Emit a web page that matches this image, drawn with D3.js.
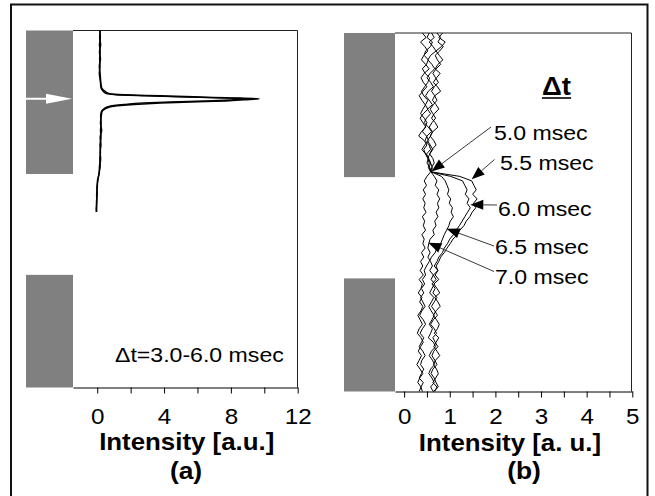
<!DOCTYPE html>
<html>
<head>
<meta charset="utf-8">
<script src="https://cdn.jsdelivr.net/npm/d3@7"></script>
<style>
  body { margin: 0; background: #fff; }
  svg { display: block; font-family: "Liberation Sans", Arial, Helvetica, sans-serif; }
</style>
</head>
<body>
<svg id="fig" width="655" height="496"></svg>
<script>
// ---------- Panel (a): time-integrated profile, Δt = 3.0–6.0 msec ----------
// position along the gap (0 = top of plot, 100 = bottom), intensity in a.u.
const zA = [0, 2, 4, 6, 8, 10, 12, 14, 16, 17, 17.7, 18, 18.3, 18.6, 18.85, 19.12,
            19.4, 19.7, 20, 20.3, 20.7, 21, 21.4, 22, 22.7, 24, 26, 28, 30, 32, 34,
            36, 38, 40, 42, 44, 46, 48, 50, 50.8];
const intensityA1 = [0.18, 0.15, 0.20, 0.14, 0.19, 0.13, 0.17, 0.20, 0.26, 0.45, 0.75, 1.6, 3.8, 5.8, 7.7, 9.7,
                     8.8, 7.7, 5.6, 3.8, 2.2, 1.4, 0.75, 0.45, 0.28, 0.24, 0.20, 0.26, 0.18, 0.22, 0.17,
                     0.20, 0.14, 0.12, 0.02, 0.00, -0.03, -0.02, -0.06, -0.05];
const intensityA2 = [0.16, 0.19, 0.13, 0.18, 0.14, 0.17, 0.12, 0.18, 0.22, 0.35, 0.55, 1.1, 2.9, 5.0, 7.2, 9.2,
                     8.1, 6.6, 4.4, 2.8, 1.6, 1.0, 0.6, 0.38, 0.25, 0.20, 0.24, 0.19, 0.23, 0.16, 0.20,
                     0.15, 0.18, 0.10, 0.04, -0.02, 0.00, -0.05, -0.03, -0.04];
const ticksA = [0, 2, 4, 6, 8, 10, 12];
const tickLabelsA = [0, 4, 8, 12];

// ---------- Panel (b): time-resolved profiles ----------
const zB = [0, 1.25, 2.5, 3.75, 5, 6.25, 7.5, 8.75, 10, 11.25, 12.5, 13.75, 15, 16.25, 17.5, 18.75,
            20, 21.25, 22.5, 23.75, 25, 26.25, 27.5, 28.75, 30, 31.25, 32.5, 33.75, 35, 36.25, 37.5,
            38.75, 40, 41.25, 42.5, 43.75, 45, 46.25, 47.5, 48.75, 50, 51.25, 52.5, 53.75, 55, 56.25,
            57.5, 58.75, 60, 61.25, 62.5, 63.75, 65, 66.25, 67.5, 68.75, 70, 71.25, 72.5, 73.75, 75,
            76.25, 77.5, 78.75, 80, 81.25, 82.5, 83.75, 85, 86.25, 87.5, 88.75, 90, 91.25, 92.5, 93.75,
            95, 96.25, 97.5, 98.75, 100];
const profile50 = [0.55,0.50,0.62,0.58,0.47,0.44,0.53,0.49,0.40,0.46,
                   0.56,0.52,0.45,0.38,0.43,0.52,0.47,0.41,0.36,0.44,
                   0.50,0.46,0.40,0.49,0.54,0.45,0.39,0.47,0.52,0.55,
                   0.53,0.58,0.50,0.44,0.49,0.42,0.47,0.41,0.46,0.43,
                   0.48,0.40,0.45,0.42,0.47,0.39,0.44,0.41,0.46,0.38,
                   0.43,0.36,0.41,0.35,0.42,0.33,0.40,0.37,0.31,0.39,
                   0.34,0.41,0.37,0.30,0.35,0.40,0.33,0.29,0.37,0.42,
                   0.36,0.31,0.38,0.33,0.28,0.35,0.41,0.34,0.30,0.37,0.33];
const profile55 = [0.72,0.80,0.74,0.86,0.78,0.68,0.73,0.80,0.70,0.63,
                   0.69,0.75,0.66,0.60,0.67,0.72,0.64,0.57,0.63,0.69,
                   0.61,0.55,0.62,0.58,0.51,0.57,0.63,0.56,0.52,0.58,
                   0.62,0.60,1.22,1.48,1.53,1.58,1.50,1.60,1.52,1.57,
                   1.49,1.44,1.36,1.31,1.22,1.17,1.07,1.01,0.94,0.88,
                   0.80,0.76,0.70,0.74,0.64,0.70,0.61,0.68,0.63,0.72,
                   0.66,0.60,0.67,0.73,0.64,0.58,0.66,0.71,0.63,0.68,
                   0.74,0.65,0.61,0.67,0.72,0.63,0.59,0.66,0.70,0.75,0.64];
const profile60 = [0.84,0.76,0.90,0.82,0.70,0.77,0.85,0.74,0.68,0.79,
                   0.71,0.64,0.73,0.80,0.67,0.62,0.70,0.76,0.66,0.60,
                   0.68,0.74,0.63,0.57,0.65,0.70,0.61,0.56,0.63,0.66,
                   0.60,0.59,1.02,1.28,1.33,1.38,1.34,1.42,1.38,1.45,
                   1.39,1.33,1.27,1.21,1.14,1.08,1.00,0.95,0.88,0.84,
                   0.76,0.72,0.66,0.74,0.68,0.76,0.65,0.72,0.78,0.67,
                   0.74,0.79,0.70,0.64,0.71,0.77,0.73,0.66,0.76,0.70,
                   0.65,0.72,0.78,0.69,0.64,0.71,0.75,0.69,0.63,0.72,0.67];
const profile65 = [0.40,0.48,0.36,0.45,0.52,0.43,0.38,0.47,0.55,0.44,
                   0.37,0.42,0.50,0.41,0.33,0.39,0.46,0.52,0.42,0.35,
                   0.41,0.48,0.38,0.32,0.44,0.50,0.43,0.47,0.53,0.50,
                   0.56,0.60,0.82,0.90,0.94,0.98,0.95,1.02,0.99,1.06,
                   1.03,1.08,1.01,0.98,0.93,0.88,0.84,0.80,0.72,0.68,
                   0.60,0.55,0.49,0.44,0.47,0.40,0.45,0.38,0.43,0.36,
                   0.41,0.46,0.39,0.34,0.42,0.47,0.40,0.35,0.43,0.38,
                   0.33,0.41,0.46,0.39,0.36,0.43,0.38,0.33,0.42,0.37,0.40];
const profile70 = [0.60,0.66,0.55,0.63,0.70,0.58,0.52,0.61,0.67,0.57,
                   0.50,0.58,0.64,0.53,0.47,0.55,0.62,0.51,0.58,0.49,
                   0.44,0.53,0.60,0.50,0.46,0.55,0.58,0.49,0.54,0.58,
                   0.55,0.59,0.66,0.72,0.68,0.76,0.72,0.78,0.73,0.76,
                   0.70,0.74,0.67,0.70,0.63,0.66,0.57,0.54,0.52,0.57,
                   0.52,0.58,0.62,0.56,0.64,0.59,0.67,0.61,0.56,0.65,
                   0.60,0.54,0.59,0.66,0.61,0.55,0.62,0.58,0.53,0.64,
                   0.69,0.60,0.55,0.62,0.67,0.58,0.54,0.61,0.66,0.58,0.64];
const profilesB = [profile50, profile55, profile60, profile65, profile70];
const timeLabels = ["5.0 msec", "5.5 msec", "6.0 msec", "6.5 msec", "7.0 msec"];
// points on the profiles that the labels point at (intensity, position)
const pointerX = [0.60, 1.48, 1.45, 0.93, 0.53];
const pointerZ = [38.6, 40.8, 47.9, 54.6, 58.5];
const ticksB = [0, 0.5, 1, 1.5, 2, 2.5, 3, 3.5, 4, 4.5, 5];
const tickLabelsB = [0, 1, 2, 3, 4, 5];

// electrode extents along the gap (same positions in both panels)
const electrodeZ = [[0, 40.2], [68.45, 100]];

// ---------- layout ----------
const STRETCH = 1.1;   // horizontal text stretch of the figure
const FONT = '"Liberation Sans", Arial, Helvetica, sans-serif';
const panelA = { left: 73, right: 297.7, top: 30.5, bottom: 387.5, xMin: -1.45, xMax: 12,
                 elecLeft: 26, tickY: 37, titleX: 186.7, titleY: 450, capX: 186, capY: 479 };
const panelB = { left: 395, right: 632.3, top: 33, bottom: 391.5, xMin: -0.2, xMax: 5,
                 elecLeft: 344, tickY: 33, titleX: 510, titleY: 451, capX: 524, capY: 479 };

const svg = d3.select("#fig");

function stretchedText(g, x, y, s, size, weight, anchor) {
  return g.append("text")
    .attr("transform", `translate(${x},${y}) scale(${STRETCH},1)`)
    .attr("text-anchor", anchor || "middle")
    .attr("font-size", size)
    .attr("font-weight", weight || "normal")
    .attr("fill", "#000")
    .text(s);
}

// outer frame (open at the bottom edge of the page)
svg.append("path")
  .attr("d", "M11,500V4.5H647.5V500")
  .attr("fill", "none").attr("stroke", "#111").attr("stroke-width", 2);

function drawPanel(P, ticks, tickLabels) {
  const g = svg.append("g");
  const x = d3.scaleLinear().domain([P.xMin, P.xMax]).range([P.left, P.right]);
  const z = d3.scaleLinear().domain([0, 100]).range([P.top, P.bottom]);

  // electrodes
  g.selectAll("rect.electrode").data(electrodeZ).join("rect")
    .attr("class", "electrode")
    .attr("x", P.elecLeft).attr("width", P.left - P.elecLeft)
    .attr("y", d => z(d[0])).attr("height", d => z(d[1]) - z(d[0]))
    .attr("fill", "#808080");

  // plot frame: top and right edges
  g.append("path")
    .attr("d", `M${P.left},${P.top}H${Math.round(P.right) - 0.5}V${P.bottom}`)
    .attr("fill", "none").attr("stroke", "#222").attr("stroke-width", 1);

  // intensity axis: minor ticks unlabelled
  const axis = d3.axisBottom(x)
    .tickValues(ticks)
    .tickSize(6).tickSizeOuter(0)
    .tickFormat(d => String(d));
  const ag = g.append("g").attr("transform", `translate(0,${P.bottom})`).call(axis);
  ag.select(".domain").attr("stroke", "#000");
  ag.selectAll(".tick line").attr("stroke", "#000");
  ag.selectAll(".tick").filter(d => !tickLabels.includes(d)).select("text").remove();
  ag.selectAll(".tick text")
    .attr("x", 0).attr("y", P.tickY).attr("dy", null)
    .attr("transform", `scale(${STRETCH},1)`)
    .attr("font-family", FONT).attr("font-size", 22).attr("fill", "#000");
  return { g, x, z };
}

// ---------- panel (a) ----------
const A = drawPanel(panelA, ticksA, tickLabelsA);
const lineA = d3.line().x(d => A.x(d[1])).y(d => A.z(d[0])).curve(d3.curveMonotoneY);
[intensityA2, intensityA1].forEach((vals, k) => {
  A.g.append("path")
    .datum(zA.map((zz, i) => [zz, vals[i]]))
    .attr("d", lineA)
    .attr("fill", "none").attr("stroke", "#000")
    .attr("stroke-width", k === 0 ? 1.3 : 1.6);
});
// arrow marking the peak position on the electrode
const peakZ = zA[intensityA1.indexOf(d3.max(intensityA1))];
const ay = A.z(peakZ);
A.g.append("line").attr("x1", panelA.elecLeft).attr("x2", 47).attr("y1", ay).attr("y2", ay)
  .attr("stroke", "#fff").attr("stroke-width", 2);
A.g.append("path").attr("d", `M46,${ay - 5}L72,${ay}L46,${ay + 5}Z`).attr("fill", "#fff");
stretchedText(A.g, 115, 361.5, "\u0394t=3.0-6.0 msec", 21, "normal", "start");
stretchedText(svg, panelA.titleX, panelA.titleY, "Intensity [a.u.]", 23.5, "bold");
stretchedText(svg, panelA.capX, panelA.capY, "(a)", 24, "bold");

// ---------- panel (b) ----------
const B = drawPanel(panelB, ticksB, tickLabelsB);
const lineB = d3.line().x(d => B.x(d[1])).y(d => B.z(d[0]));
profilesB.forEach(vals => {
  B.g.append("path")
    .datum(zB.map((zz, i) => [zz, vals[i]]))
    .attr("d", lineB)
    .attr("fill", "none").attr("stroke", "#000").attr("stroke-width", 1);
});

// legend heading
const dt = stretchedText(B.g, 556.5, 95, "\u0394t", 25, "bold");
const bb = dt.node().getBBox();
B.g.append("line")
  .attr("x1", 556.5 - bb.width * STRETCH / 2).attr("x2", 556.5 + bb.width * STRETCH / 2)
  .attr("y1", 98).attr("y2", 98).attr("stroke", "#000").attr("stroke-width", 1.6);

// labelled pointers
const labelLayout = [
  { x: 494, y: 140, tx: 491, ty: 127 },
  { x: 500, y: 170, tx: 494.5, ty: 159.5 },
  { x: 498, y: 216, tx: 497, ty: 205 },
  { x: 495, y: 254, tx: 494, ty: 246 },
  { x: 495, y: 284, tx: 494, ty: 271.5 }
];
timeLabels.forEach((lab, i) => {
  const L = labelLayout[i];
  const px = B.x(pointerX[i]), py = B.z(pointerZ[i]);
  const dx = px - L.tx, dy = py - L.ty, len = Math.hypot(dx, dy);
  const ux = dx / len, uy = dy / len;
  const hl = 13, hw = 5;
  const bx = px - ux * hl, by = py - uy * hl;
  B.g.append("line").attr("x1", L.tx).attr("y1", L.ty).attr("x2", bx).attr("y2", by)
    .attr("stroke", "#222").attr("stroke-width", 0.9);
  B.g.append("path")
    .attr("d", `M${px},${py}L${bx - uy * hw},${by + ux * hw}L${bx + uy * hw},${by - ux * hw}Z`)
    .attr("fill", "#000");
  stretchedText(B.g, L.x, L.y, lab, 21, "normal", "start");
});

stretchedText(svg, panelB.titleX, panelB.titleY, "Intensity [a. u.]", 23.5, "bold");
stretchedText(svg, panelB.capX, panelB.capY, "(b)", 24, "bold");
svg.selectAll("text").attr("font-family", FONT);
</script>
</body>
</html>
